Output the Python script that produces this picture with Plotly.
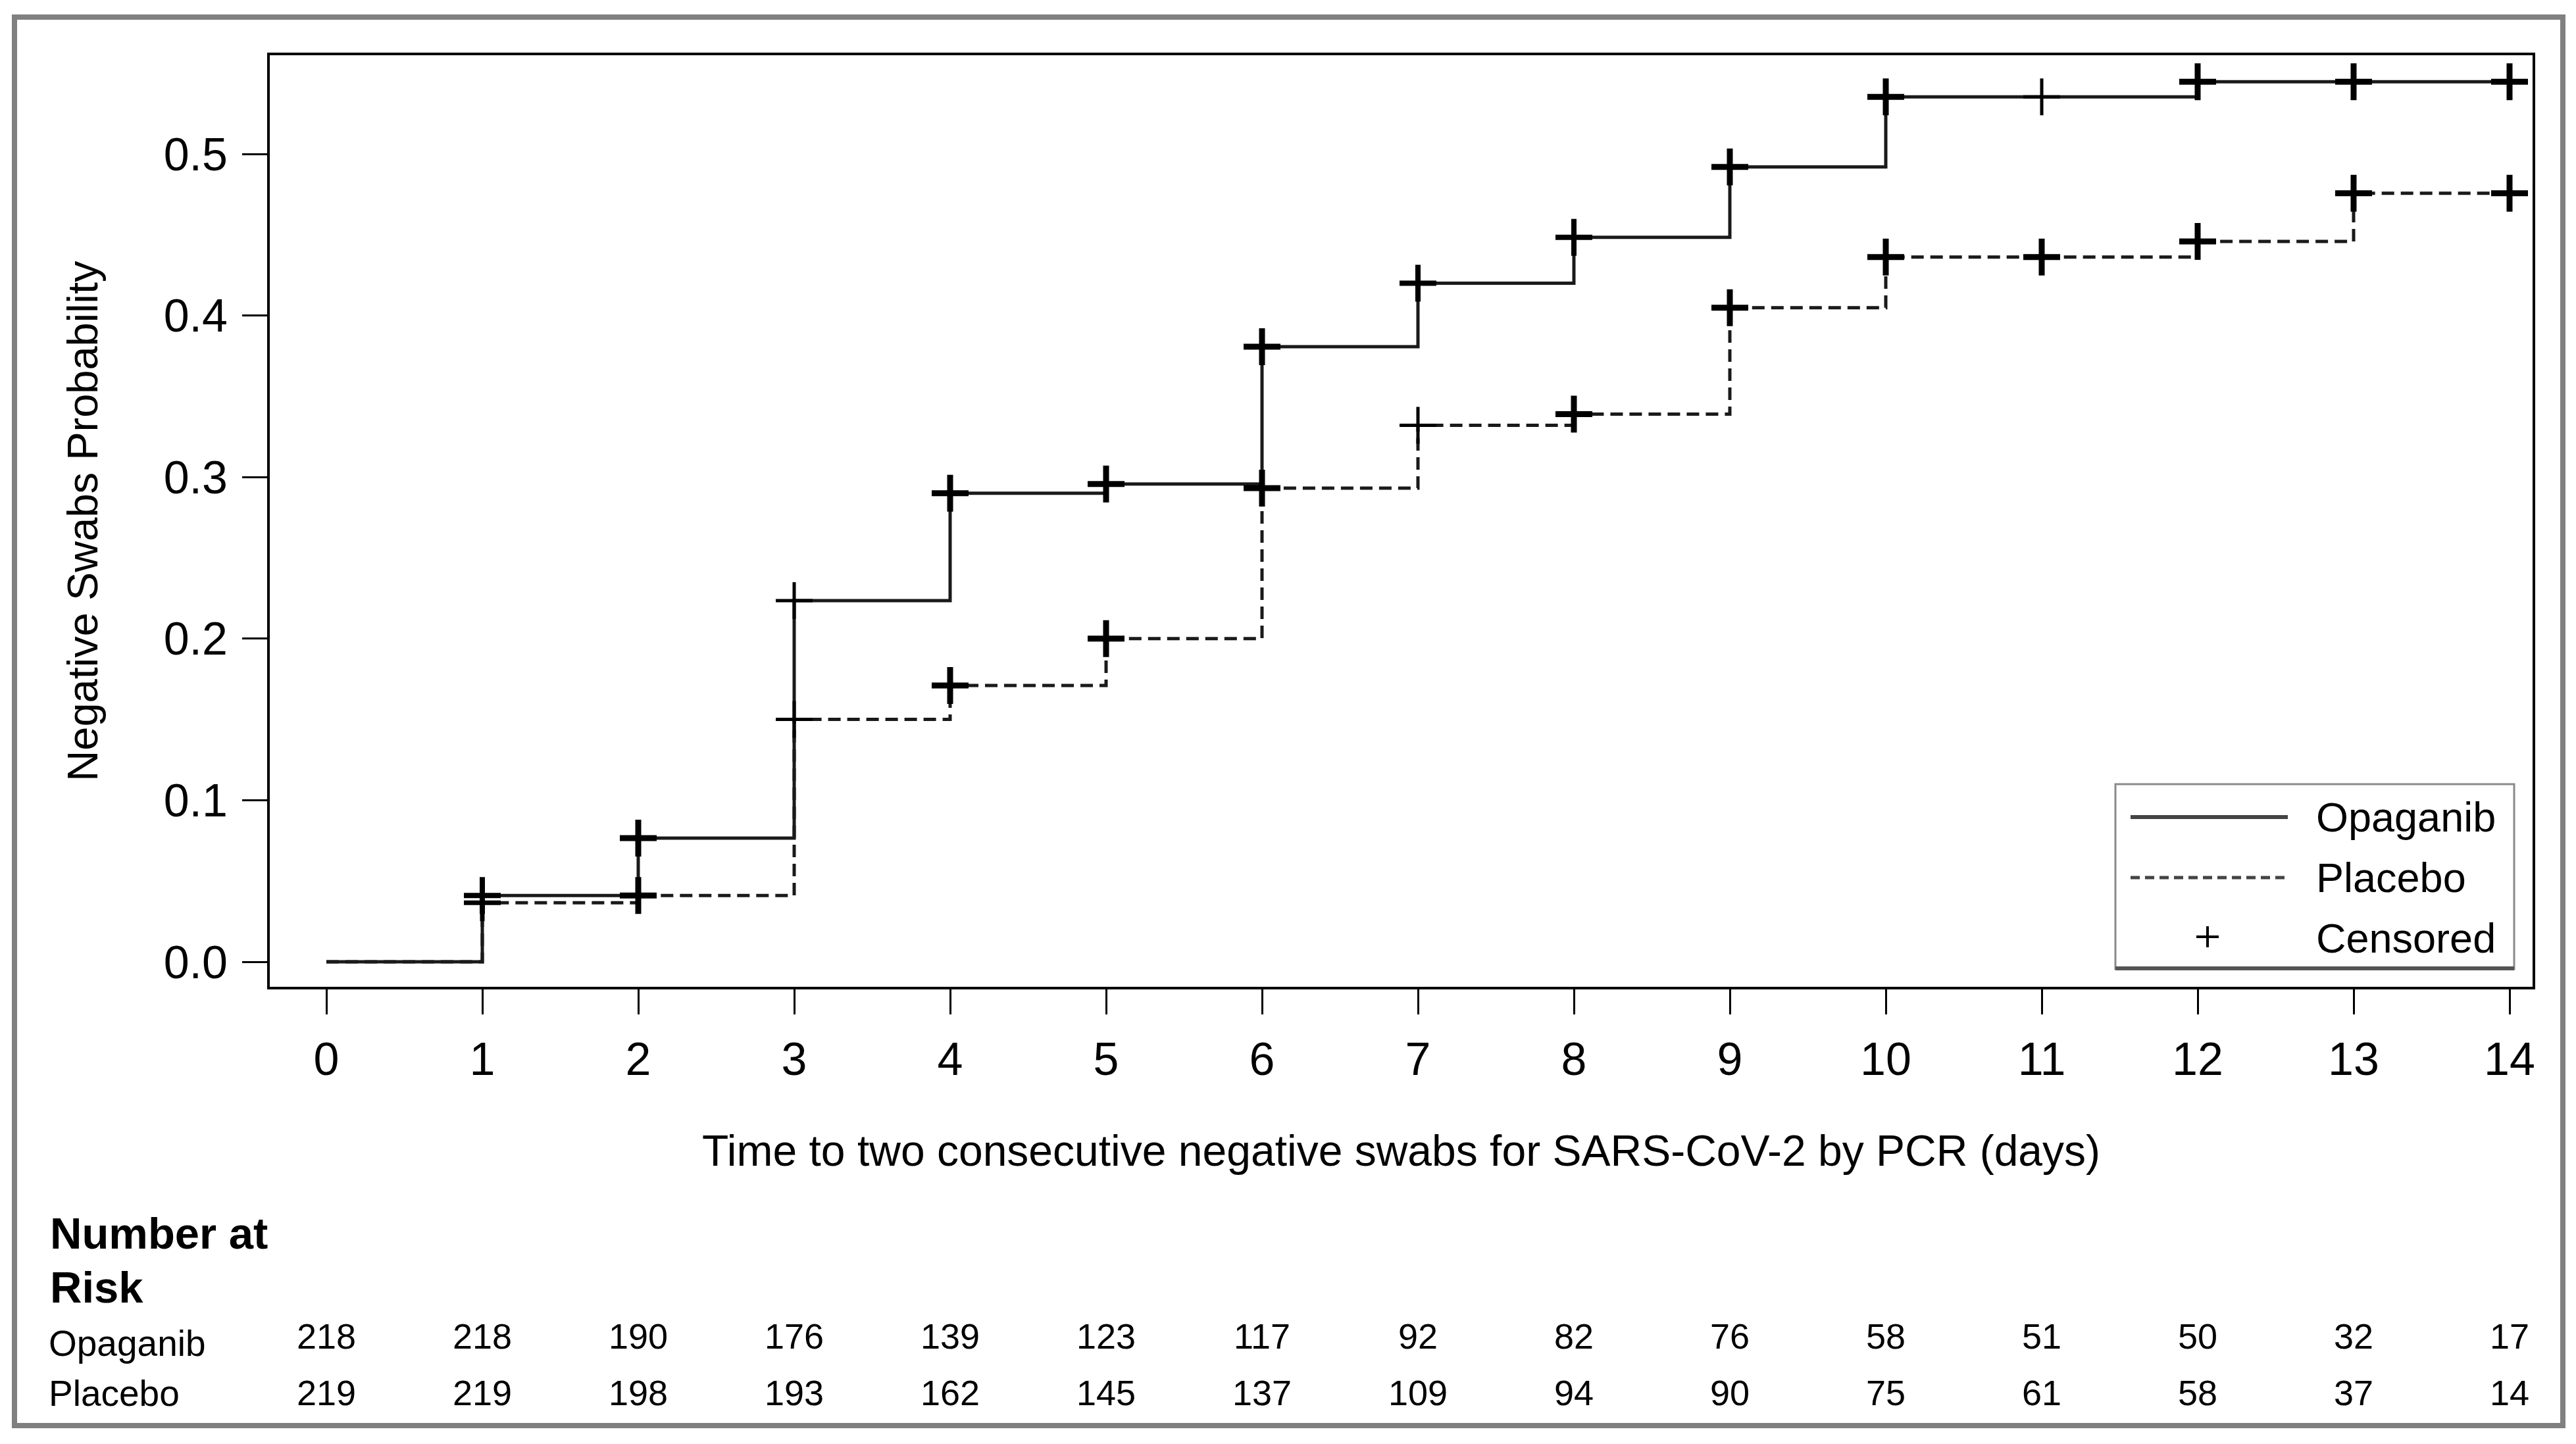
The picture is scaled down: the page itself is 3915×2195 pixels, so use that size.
import plotly.graph_objects as go

# ---------------- data ----------------
days = list(range(0, 15))
opaganib_prob = [0.0, 0.041, 0.0765, 0.2235, 0.290, 0.2957, 0.3807, 0.420,
                 0.4484, 0.492, 0.5353, 0.5353, 0.5447, 0.5447, 0.5447]
placebo_prob = [0.0, 0.0365, 0.041, 0.150, 0.171, 0.200, 0.2932, 0.332,
                0.339, 0.4048, 0.4362, 0.4362, 0.4458, 0.4757, 0.4757]
censor_days = list(range(1, 15))
risk_days = list(range(0, 15))
opaganib_risk = [218, 218, 190, 176, 139, 123, 117, 92, 82, 76, 58, 51, 50, 32, 17]
placebo_risk = [219, 219, 198, 193, 162, 145, 137, 109, 94, 90, 75, 61, 58, 37, 14]
y_ticks = [0.0, 0.1, 0.2, 0.3, 0.4, 0.5]
x_ticks = list(range(0, 15))

# ---------------- styling / layout ----------------
OFF = 8  # page body margin offset
W, H = 3915 - OFF, 2195 - OFF
L, R, T, B = 410 - OFF, 3849 - OFF, 84 - OFF, 1500 - OFF
FONT = "Liberation Sans, Arial, sans-serif"
FS = 70


def px(xp):
    return (xp - OFF - L) / (R - L)


def py(yp):
    return (B - (yp - OFF)) / (B - T)


opa_cens = [opaganib_prob[days.index(d)] for d in censor_days]
pla_cens = [placebo_prob[days.index(d)] for d in censor_days]
opa_mw = [8, 9, 5, 9, 9, 9, 8, 8, 9, 9, 5, 9, 9, 9]
pla_mw = [7, 9, 5, 9, 9, 9, 5, 9, 9, 9, 9, 9, 9, 9]

fig = go.Figure()
fig.add_trace(go.Scatter(x=days, y=opaganib_prob, mode="lines", line_shape="hv",
                         line=dict(color="#1a1a1a", width=5), name="Opaganib",
                         showlegend=False))
fig.add_trace(go.Scatter(x=days, y=placebo_prob, mode="lines", line_shape="hv",
                         line=dict(color="#1a1a1a", width=5, dash="19px,10px"),
                         name="Placebo", showlegend=False))
fig.add_trace(go.Scatter(x=censor_days, y=opa_cens, mode="markers", name="Censored",
                         marker=dict(symbol="cross-thin", size=40, color="black",
                                     line=dict(color="black", width=opa_mw)),
                         showlegend=False))
fig.add_trace(go.Scatter(x=censor_days, y=pla_cens, mode="markers", name="Censored",
                         marker=dict(symbol="cross-thin", size=40, color="black",
                                     line=dict(color="black", width=pla_mw)),
                         showlegend=False))

shapes = []
annotations = []

# outer gray frame
shapes.append(dict(type="rect", xref="paper", yref="paper",
                   x0=px(22), x1=px(3895), y0=py(2167), y1=py(26),
                   line=dict(color="#808080", width=8), layer="below"))

# legend box
lx0, lx1, ly0, ly1 = 3215, 3821, 1192, 1473
shapes.append(dict(type="rect", xref="paper", yref="paper",
                   x0=px(lx0), x1=px(lx1), y0=py(ly1), y1=py(ly0),
                   line=dict(color="#8a8a8a", width=3), fillcolor="white"))
shapes.append(dict(type="line", xref="paper", yref="paper",
                   x0=px(lx0), x1=px(lx1), y0=py(ly1 - 1), y1=py(ly1 - 1),
                   line=dict(color="#555555", width=6)))
shapes.append(dict(type="line", xref="paper", yref="paper",
                   x0=px(3238), x1=px(3477), y0=py(1242), y1=py(1242),
                   line=dict(color="#444444", width=6)))
shapes.append(dict(type="line", xref="paper", yref="paper",
                   x0=px(3238), x1=px(3477), y0=py(1334), y1=py(1334),
                   line=dict(color="#444444", width=5, dash="14px,8px")))
shapes.append(dict(type="line", xref="paper", yref="paper",
                   x0=px(3338), x1=px(3372), y0=py(1424), y1=py(1424),
                   line=dict(color="black", width=4)))
shapes.append(dict(type="line", xref="paper", yref="paper",
                   x0=px(3355), x1=px(3355), y0=py(1408), y1=py(1440),
                   line=dict(color="black", width=4)))

for name, yc in [("Opaganib", 1242), ("Placebo", 1334), ("Censored", 1426)]:
    annotations.append(dict(text=name, xref="paper", yref="paper", x=px(3518), y=py(yc),
                            xanchor="left", yanchor="middle", showarrow=False,
                            font=dict(family=FONT, size=63, color="black")))

# number at risk table
annotations.append(dict(text="<b>Number at</b>", xref="paper", yref="paper", x=px(74), y=py(1874),
                        xanchor="left", yanchor="middle", showarrow=False,
                        font=dict(family=FONT, size=67, color="black")))
annotations.append(dict(text="<b>Risk</b>", xref="paper", yref="paper", x=px(74), y=py(1956),
                        xanchor="left", yanchor="middle", showarrow=False,
                        font=dict(family=FONT, size=67, color="black")))
annotations.append(dict(text="Opaganib", xref="paper", yref="paper", x=px(72), y=py(2042),
                        xanchor="left", yanchor="middle", showarrow=False,
                        font=dict(family=FONT, size=55, color="black")))
annotations.append(dict(text="Placebo", xref="paper", yref="paper", x=px(72), y=py(2118),
                        xanchor="left", yanchor="middle", showarrow=False,
                        font=dict(family=FONT, size=55, color="black")))
for d, n in zip(risk_days, opaganib_risk):
    annotations.append(dict(text=str(n), xref="x", yref="paper", x=d, y=py(2031),
                            xanchor="center", yanchor="middle", showarrow=False,
                            font=dict(family=FONT, size=54, color="black")))
for d, n in zip(risk_days, placebo_risk):
    annotations.append(dict(text=str(n), xref="x", yref="paper", x=d, y=py(2117),
                            xanchor="center", yanchor="middle", showarrow=False,
                            font=dict(family=FONT, size=54, color="black")))

x0r = (410 - 496) / 237.0
x1r = (3849 - 496) / 237.0
y0r = -(1500 - 1462) / 2456.0
y1r = (1462 - 84) / 2456.0

fig.update_layout(
    width=W, height=H,
    margin=dict(l=L, r=W - R, t=T, b=H - B, autoexpand=False),
    paper_bgcolor="white", plot_bgcolor="white",
    font=dict(family=FONT, size=FS, color="black"),
    showlegend=False,
    shapes=shapes, annotations=annotations,
    xaxis=dict(range=[x0r, x1r], tickmode="array", tickvals=x_ticks,
               ticktext=[str(t) for t in x_ticks],
               showline=True, mirror=True, linecolor="black", linewidth=4,
               ticks="outside", ticklen=38, tickwidth=3, tickcolor="black",
               ticklabelstandoff=8,
               showgrid=False, zeroline=False,
               tickfont=dict(family=FONT, size=FS, color="black"),
               title=dict(text="Time to two consecutive negative swabs for SARS-CoV-2 by PCR (days)",
                          font=dict(family=FONT, size=66, color="black"), standoff=79)),
    yaxis=dict(range=[y0r, y1r], tickmode="array", tickvals=y_ticks,
               ticktext=[f"{v:.1f}" for v in y_ticks],
               showline=True, mirror=True, linecolor="black", linewidth=4,
               ticks="outside", ticklen=38, tickwidth=3, tickcolor="black",
               ticklabelstandoff=8,
               showgrid=False, zeroline=False,
               tickfont=dict(family=FONT, size=FS, color="black"),
               title=dict(text="Negative Swabs Probability",
                          font=dict(family=FONT, size=65, color="black"), standoff=80)),
)

fig.write_html("out.html")
